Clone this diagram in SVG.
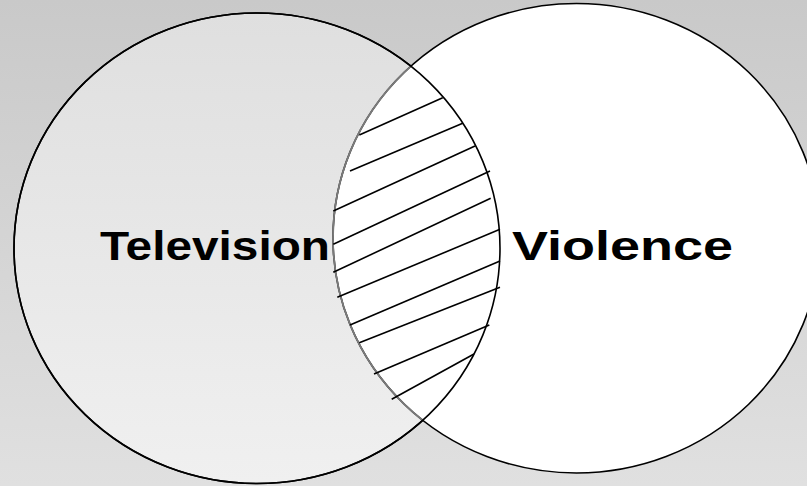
<svg xmlns="http://www.w3.org/2000/svg" width="807" height="486" viewBox="0 0 807 486">
<style>
.lbl{font-family:"Liberation Sans",Arial,sans-serif;font-weight:bold;font-size:41px;fill:#000}
.hatch line{stroke:#000;stroke-width:1.6;stroke-linecap:butt}
</style>
<defs>
<linearGradient id="bg" x1="0" y1="0" x2="0" y2="1">
<stop offset="0" stop-color="#c9c9c9"/>
<stop offset="1" stop-color="#e0e0e0"/>
</linearGradient>
<linearGradient id="lf" x1="0" y1="0" x2="0" y2="1">
<stop offset="0" stop-color="#dfdfdf"/>
<stop offset="1" stop-color="#f0f0f0"/>
</linearGradient>
<clipPath id="leftClip"><ellipse cx="257" cy="248.25" rx="243" ry="235.25"/></clipPath>
</defs>
<rect width="807" height="486" fill="url(#bg)"/>
<g id="television">
<ellipse cx="257" cy="248.25" rx="243" ry="235.25" fill="url(#lf)" stroke="#000" stroke-width="1.6"/>
<text class="lbl" x="100" y="260" textLength="230" lengthAdjust="spacingAndGlyphs">Television</text>
</g>
<g id="violence">
<ellipse cx="576.5" cy="238.25" rx="243.5" ry="234.75" fill="#fff" stroke="#000" stroke-width="1.6"/>
<ellipse cx="576.5" cy="238.25" rx="243.5" ry="234.75" fill="none" stroke="#7a7a7a" stroke-width="1.8" clip-path="url(#leftClip)"/>
<ellipse cx="257" cy="248.25" rx="243" ry="235.25" fill="none" stroke="#000" stroke-width="1.6"/>
<text class="lbl" x="512" y="260" textLength="221" lengthAdjust="spacingAndGlyphs">Violence</text>
</g>
<g id="connectors" class="hatch">
<line x1="359.3" y1="135" x2="442.7" y2="97.7"/>
<line x1="350" y1="171" x2="462.7" y2="123.3"/>
<line x1="333.3" y1="211" x2="475" y2="146"/>
<line x1="333.3" y1="244.3" x2="490" y2="171"/>
<line x1="333.3" y1="272.3" x2="490.7" y2="198.3"/>
<line x1="337.3" y1="297.3" x2="500" y2="229.3"/>
<line x1="350" y1="325" x2="500" y2="261"/>
<line x1="359.3" y1="342.7" x2="500" y2="287.3"/>
<line x1="374" y1="374" x2="489.3" y2="325"/>
<line x1="391.7" y1="399.3" x2="474" y2="354"/>
</g>
</svg>
